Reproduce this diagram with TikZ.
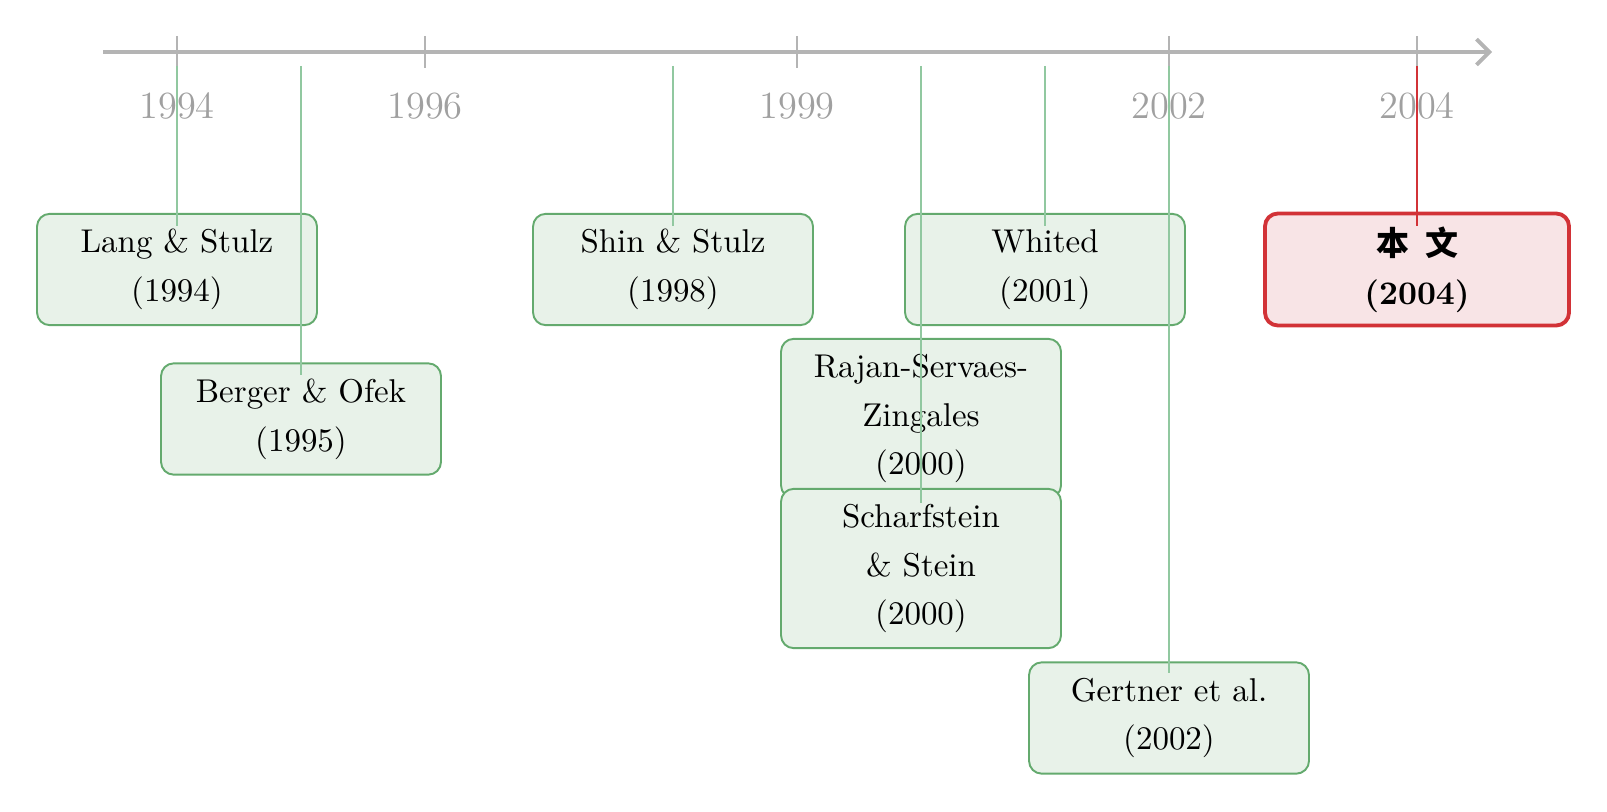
\documentclass[tikz,border=0pt]{standalone}
\usepackage{fontspec}
\newfontfamily\cjk{Noto Sans CJK SC}
\usetikzlibrary{arrows.meta,calc}
\definecolor{axisgray}{RGB}{180,180,180}
\definecolor{labgray}{RGB}{160,160,160}
\definecolor{boxgreen}{RGB}{100,170,110}
\definecolor{fillgreen}{RGB}{232,242,233}
\definecolor{linkgreen}{RGB}{145,200,160}
\definecolor{boxred}{RGB}{210,50,55}
\definecolor{fillred}{RGB}{248,228,230}
\tikzset{
  paper/.style={draw=boxgreen, fill=fillgreen, line width=0.6pt, rounded corners=4pt,
    align=center, minimum width=87.5pt, minimum height=34.8pt, inner sep=2pt,
    font=\fontsize{10.3}{15.3}\selectfont},
  tall/.style={minimum height=49.8pt},
  mine/.style={draw=boxred, fill=fillred, line width=1.2pt, rounded corners=4pt,
    align=center, minimum width=95pt, minimum height=35pt, inner sep=2pt,
    font=\fontsize{10.3}{15.3}\selectfont\bfseries},
  link/.style={draw=linkgreen, line width=0.55pt},
  redlink/.style={draw=boxred, line width=0.55pt},
  tickmark/.style={draw=axisgray, line width=0.5pt},
  yearlab/.style={text=labgray, font=\fontsize{12}{14}\selectfont},
}
\begin{document}
\begin{tikzpicture}[x=0.3125pt, y=-0.3125pt]
\useasboundingbox (0,0) rectangle (1607,811);
% axis
\coordinate (axs) at (103,52);
\coordinate (axe) at (1492,52);
\draw[draw=axisgray, line width=1.2pt, -{Straight Barb[length=4pt,width=8pt]}] (axs) -- (axe);
% ticks and labels
\foreach \yr/\xx in {1994/177,1996/425,1999/797,2002/1169,2004/1417}{
  \coordinate (tt\yr) at (\xx,36);
  \coordinate (tb\yr) at (\xx,68);
  \draw[tickmark] (tt\yr) -- (tb\yr);
  \node[yearlab] (lab\yr) at (\xx,106) {\yr};
}
% boxes
\node[paper] (lang) at (177,269.5) {Lang \& Stulz\\(1994)};
\node[paper] (berger) at (301,419) {Berger \& Ofek\\(1995)};
\node[paper] (shin) at (673,269.5) {Shin \& Stulz\\(1998)};
\node[paper] (whited) at (1045,269.5) {Whited\\(2001)};
\node[paper,tall] (rajan) at (921,418.5) {Rajan-Servaes-\\Zingales\\(2000)};
\node[paper,tall] (scharf) at (921,568.5) {Scharfstein\\\& Stein\\(2000)};
\node[paper] (gertner) at (1169,718) {Gertner et al.\\(2002)};
\node[mine] (this) at (1417,269.5) {{\cjk 本\hspace{5pt}文}\\(2004)};
% connectors
\coordinate (s94) at (177,66);
\coordinate (s95) at (301,66);
\coordinate (s98) at (673,66);
\coordinate (s00) at (921,66);
\coordinate (s01) at (1045,66);
\coordinate (s02) at (1169,66);
\coordinate (s04) at (1417,66);
\draw[link] (s94) -- ($(lang.north)+(0,13)$);
\draw[link] (s95) -- ($(berger.north)+(0,13)$);
\draw[link] (s98) -- ($(shin.north)+(0,13)$);
\draw[link] (s00) -- ($(scharf.north)+(0,15)$);
\draw[link] (s01) -- ($(whited.north)+(0,13)$);
\draw[link] (s02) -- ($(gertner.north)+(0,12)$);
\draw[redlink] (s04) -- ($(this.north)+(0,14)$);
\end{tikzpicture}
\end{document}
